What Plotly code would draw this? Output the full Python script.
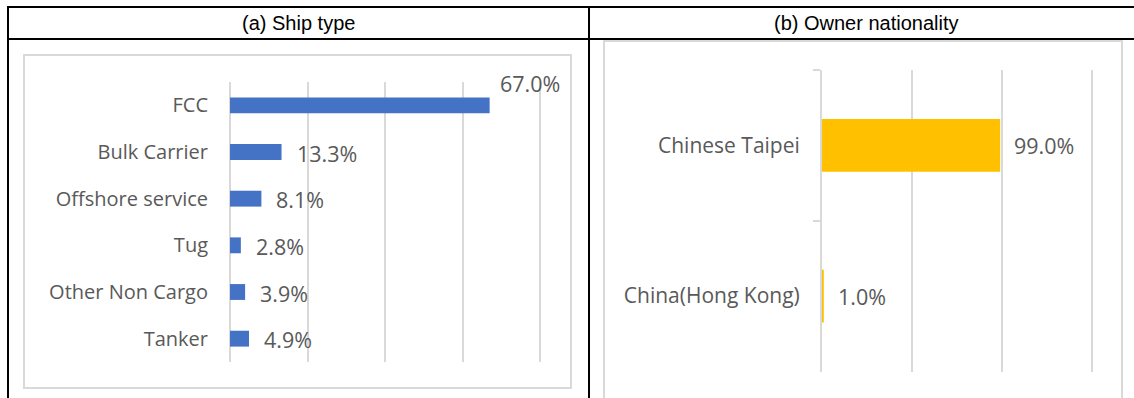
import plotly.graph_objects as go

# ---- data ----
ship_types = ["FCC", "Bulk Carrier", "Offshore service", "Tug", "Other Non Cargo", "Tanker"]
ship_share = [0.670, 0.133, 0.081, 0.028, 0.039, 0.049]

owners = ["Chinese Taipei", "China(Hong Kong)"]
owner_share = [0.990, 0.010]

panel_titles = ["(a) Ship type", "(b) Owner nationality"]

W, H = 1134, 398
BLUE = "#4472C4"
GOLD = "#FFC000"
GRID = "#D9D9D9"
TXT = "#595959"
FONT = "Open Sans, Noto Sans, sans-serif"
FS_CAT_A = 20
FS_CAT_B = 21
FS_LBL = 21.5


def px(x):
    return x / W


def py(y):
    return 1 - y / H


fig = go.Figure()

fig.add_trace(go.Bar(
    y=ship_types, x=ship_share, orientation="h", width=0.34,
    marker=dict(color=BLUE, line=dict(width=0)),
    xaxis="x", yaxis="y", hoverinfo="skip", showlegend=False,
))
fig.add_trace(go.Bar(
    y=owners, x=owner_share, orientation="h", width=0.35,
    marker=dict(color=GOLD, line=dict(width=0)),
    xaxis="x2", yaxis="y2", hoverinfo="skip", showlegend=False,
))

annotations = []
# data labels panel (a)
for cat, v in zip(ship_types, ship_share):
    if cat == ship_types[0]:
        xs, ys = 8, 22
    else:
        xs, ys = 13, -1
    annotations.append(dict(
        x=v, y=cat, xref="x", yref="y", text=f"{v*100:.1f}%",
        showarrow=False, xanchor="left", yanchor="middle",
        xshift=xs, yshift=ys, font=dict(family=FONT, size=FS_LBL, color=TXT),
    ))
# data labels panel (b)
for cat, v in zip(owners, owner_share):
    annotations.append(dict(
        x=v, y=cat, xref="x2", yref="y2", text=f"{v*100:.1f}%",
        showarrow=False, xanchor="left", yanchor="middle",
        xshift=12, yshift=0, font=dict(family=FONT, size=FS_LBL, color=TXT),
    ))
# panel headers
header_font = dict(family="Liberation Sans, Arial, sans-serif", size=20, color="#000000")
annotations.append(dict(x=px(298), y=py(23), xref="paper", yref="paper", text=panel_titles[0],
                        showarrow=False, xanchor="center", yanchor="middle", font=header_font))
annotations.append(dict(x=px(866), y=py(23), xref="paper", yref="paper", text=panel_titles[1],
                        showarrow=False, xanchor="center", yanchor="middle", font=header_font))

shapes = []
# chart frames
shapes.append(dict(type="rect", xref="paper", yref="paper", x0=px(24), x1=px(571), y0=py(388), y1=py(55),
                   line=dict(color=GRID, width=2), fillcolor="rgba(0,0,0,0)", layer="below"))
shapes.append(dict(type="rect", xref="paper", yref="paper", x0=px(604), x1=px(1122), y0=py(410), y1=py(41),
                   line=dict(color=GRID, width=2), fillcolor="rgba(0,0,0,0)", layer="below"))
# table lines
blk = dict(color="#000000", width=2)
shapes.append(dict(type="line", xref="paper", yref="paper", x0=px(8), x1=1, y0=py(7), y1=py(7), line=blk))
shapes.append(dict(type="line", xref="paper", yref="paper", x0=px(8), x1=1, y0=py(39), y1=py(39), line=blk))
shapes.append(dict(type="line", xref="paper", yref="paper", x0=px(8), x1=px(8), y0=py(6), y1=0, line=blk))
shapes.append(dict(type="line", xref="paper", yref="paper", x0=px(589), x1=px(589), y0=py(6), y1=0, line=blk))

# panel (a): 0..0.8 maps to x 230..540 px; pad 3 px each side so edge gridlines are kept
ka = (540 - 230) / 0.8
pa = 3 / ka
# panel (b): 0..1.5 maps to x 822..1092 px; pad right side only
kb = (1092 - 822) / 1.5
pb = 3 / kb

fig.update_layout(
    width=W, height=H,
    margin=dict(l=0, r=0, t=0, b=0),
    paper_bgcolor="white", plot_bgcolor="white",
    showlegend=False,
    font=dict(family=FONT, size=FS_CAT_A, color=TXT),
    xaxis=dict(domain=[px(227), px(543)], range=[-pa, 0.8 + pa], dtick=0.2, tick0=0,
               showgrid=True, gridcolor=GRID, gridwidth=2, zeroline=False,
               showticklabels=False, ticks="", showline=False, fixedrange=True),
    yaxis=dict(domain=[py(362), py(82)], categoryorder="array", categoryarray=ship_types,
               autorange="reversed", showgrid=False, zeroline=False, showline=False,
               ticks="", ticklabelstandoff=18,
               tickfont=dict(family=FONT, size=FS_CAT_A, color=TXT), fixedrange=True),
    xaxis2=dict(domain=[px(822), px(1095)], range=[0, 1.5 + pb], dtick=0.5, tick0=0,
                showgrid=True, gridcolor=GRID, gridwidth=2, zeroline=False,
                showticklabels=False, ticks="", showline=False, anchor="y2", fixedrange=True),
    yaxis2=dict(domain=[py(371.5), py(70)], categoryorder="array", categoryarray=owners,
                autorange="reversed", showgrid=False, zeroline=False,
                showline=True, linecolor=GRID, linewidth=2, layer="above traces",
                ticks="outside", tickson="boundaries", ticklen=7, tickwidth=2, tickcolor=GRID,
                ticklabelstandoff=16, anchor="x2",
                tickfont=dict(family=FONT, size=FS_CAT_B, color=TXT), fixedrange=True),
    annotations=annotations,
    shapes=shapes,
)

fig.write_html("out.html", config={"displayModeBar": False, "staticPlot": True},
               post_script="document.body.style.margin='0';document.body.style.padding='0';")
